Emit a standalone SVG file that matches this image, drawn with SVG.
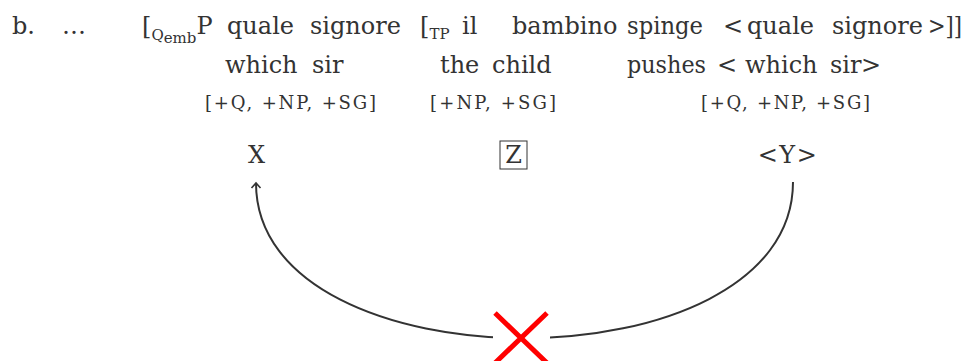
<svg xmlns="http://www.w3.org/2000/svg" width="966" height="361" viewBox="0 0 966 361">
<defs>
<style>
text{font-family:"DejaVu Serif","Liberation Serif",serif;fill:#333}
.l{font-size:24px}
.s{font-size:15px}
.f{font-size:18px}
.n{font-size:24px;text-anchor:middle}
.conn{fill:none;stroke:#333;stroke-width:2}
</style>
<marker id="arr" viewBox="-6 -6 12 12" markerWidth="12" markerHeight="12" markerUnits="userSpaceOnUse" refX="0" refY="0" orient="auto">
<path d="M-5,-4.5 L0,0 L-5,4.5" fill="none" stroke="#333" stroke-width="1.6"/>
</marker>
</defs>
<rect width="966" height="361" fill="#fff"/>
<g id="line1">
<text class="l" x="12" y="34">b.</text>
<text class="l" x="62" y="34">…</text>
<text class="l" x="142" y="34">[<tspan class="s" dy="6">Q</tspan><tspan class="s" font-size="12" dy="3">emb</tspan><tspan dy="-9">P</tspan></text>
<text class="l" x="227" y="34">quale</text>
<text class="l" x="310" y="34">signore</text>
<text class="l" x="420" y="34">[<tspan class="s" dy="5">TP</tspan></text>
<text class="l" x="462" y="34">il</text>
<text class="l" x="512" y="34">bambino</text>
<text class="l" x="627" y="34" textLength="76" lengthAdjust="spacingAndGlyphs">spinge</text>
<text class="l" x="723" y="34">&lt;</text>
<text class="l" x="747" y="34">quale</text>
<text class="l" x="832" y="34">signore</text>
<text class="l" x="928" y="34" textLength="34" lengthAdjust="spacingAndGlyphs">&gt;]]</text>
</g>
<g id="line2">
<text class="l" x="225" y="73">which</text>
<text class="l" x="312" y="73">sir</text>
<text class="l" x="440" y="73">the</text>
<text class="l" x="492" y="73">child</text>
<text class="l" x="627" y="73" textLength="79" lengthAdjust="spacingAndGlyphs">pushes</text>
<text class="l" x="717" y="73">&lt;</text>
<text class="l" x="745" y="73">which</text>
<text class="l" x="830" y="73">sir</text>
<text class="l" x="861" y="73">&gt;</text>
</g>
<g id="line3">
<text class="f" x="205" y="109" textLength="171" lengthAdjust="spacing">[+Q, +NP, +SG]</text>
<text class="f" x="430" y="109" textLength="126" lengthAdjust="spacing">[+NP, +SG]</text>
<text class="f" x="701" y="109" textLength="169" lengthAdjust="spacing">[+Q, +NP, +SG]</text>
</g>
<g id="nodeX"><text class="n" x="256.5" y="163">X</text></g>
<g id="nodeZ"><rect x="500" y="141" width="27" height="28" fill="none" stroke="#333" stroke-width="1"/><text class="n" x="513.5" y="163">Z</text></g>
<g id="nodeY"><text class="n" x="788" y="163" letter-spacing="1.5">&lt;Y&gt;</text></g>
<g id="connectors">
<path class="conn" d="M793,182 C793,390 256,390 256,183" marker-end="url(#arr)"/>
</g>
<g id="block">
<rect x="493" y="310" width="57" height="51" fill="#fff"/>
<path d="M495,313 L547,363 M547,313 L495,363" stroke="#f00" stroke-width="5" fill="none"/>
</g>
</svg>
